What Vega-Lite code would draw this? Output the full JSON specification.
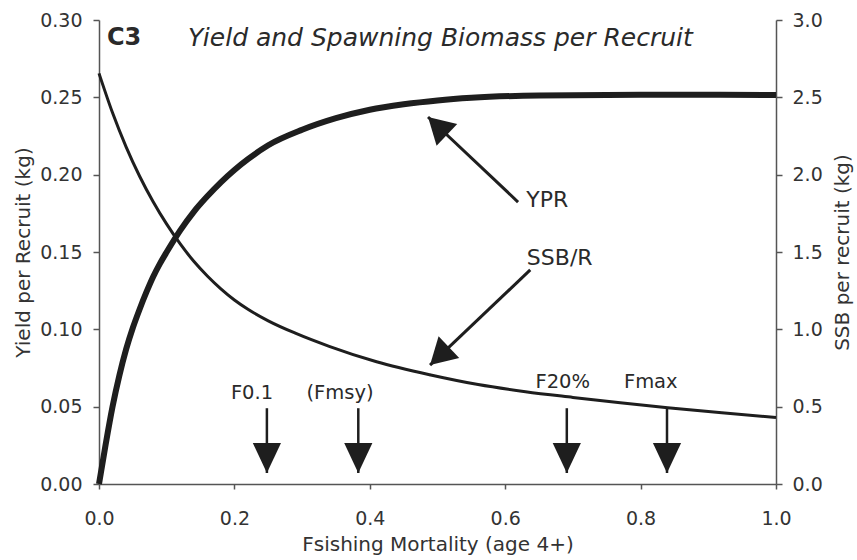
{
  "$schema": "https://vega.github.io/schema/vega-lite/v6.json",
  "width": 677,
  "height": 464,
  "autosize": {"type": "none"},
  "padding": {"left": 99, "top": 20, "right": 81, "bottom": 76},
  "background": "white",
  "config": {
    "view": {"stroke": null},
    "axis": {
      "grid": false,
      "domainColor": "#555",
      "tickColor": "#555",
      "labelColor": "#333",
      "titleColor": "#333",
      "labelFont": "DejaVu Sans",
      "titleFont": "DejaVu Sans",
      "labelFontSize": 19,
      "titleFontSize": 20,
      "titleFontWeight": "normal",
      "labelFlush": false,
      "domainWidth": 1.5,
      "tickWidth": 1.5
    }
  },
  "datasets": {
    "ypr": [
      {"F": 0, "v": 0}, {"F": 0.01, "v": 0.026}, {"F": 0.02, "v": 0.050}, {"F": 0.03, "v": 0.070},
      {"F": 0.04, "v": 0.087}, {"F": 0.05, "v": 0.101}, {"F": 0.06, "v": 0.113}, {"F": 0.07, "v": 0.124},
      {"F": 0.08, "v": 0.134}, {"F": 0.09, "v": 0.1425}, {"F": 0.10, "v": 0.150}, {"F": 0.12, "v": 0.164},
      {"F": 0.14, "v": 0.176}, {"F": 0.16, "v": 0.186}, {"F": 0.18, "v": 0.195}, {"F": 0.20, "v": 0.203},
      {"F": 0.22, "v": 0.210}, {"F": 0.25, "v": 0.219}, {"F": 0.30, "v": 0.229}, {"F": 0.35, "v": 0.2365},
      {"F": 0.40, "v": 0.242}, {"F": 0.45, "v": 0.2455}, {"F": 0.50, "v": 0.248}, {"F": 0.55, "v": 0.2497},
      {"F": 0.65, "v": 0.2512}, {"F": 0.80, "v": 0.2517}, {"F": 1.0, "v": 0.2515}
    ],
    "ssb": [
      {"F": 0, "v": 2.655}, {"F": 0.02, "v": 2.40}, {"F": 0.04, "v": 2.18}, {"F": 0.06, "v": 1.99},
      {"F": 0.08, "v": 1.825}, {"F": 0.10, "v": 1.68}, {"F": 0.12, "v": 1.552}, {"F": 0.14, "v": 1.44},
      {"F": 0.16, "v": 1.345}, {"F": 0.18, "v": 1.262}, {"F": 0.20, "v": 1.19}, {"F": 0.22, "v": 1.13},
      {"F": 0.25, "v": 1.055}, {"F": 0.29, "v": 0.975}, {"F": 0.34, "v": 0.89}, {"F": 0.41, "v": 0.79},
      {"F": 0.49, "v": 0.705}, {"F": 0.56, "v": 0.643}, {"F": 0.63, "v": 0.597}, {"F": 0.70, "v": 0.56},
      {"F": 0.77, "v": 0.525}, {"F": 0.84, "v": 0.493}, {"F": 0.92, "v": 0.46}, {"F": 1.0, "v": 0.43}
    ],
    "downs": [
      {"F": 0.248, "top": 0.049, "tip": 0.0071, "label": "F0.1", "lx": 0.226, "ly": 0.0588},
      {"F": 0.383, "top": 0.049, "tip": 0.0071, "label": "(Fmsy)", "lx": 0.356, "ly": 0.0588},
      {"F": 0.691, "top": 0.049, "tip": 0.0071, "label": "F20%", "lx": 0.685, "ly": 0.066},
      {"F": 0.839, "top": 0.049, "tip": 0.0071, "label": "Fmax", "lx": 0.815, "ly": 0.066}
    ],
    "diag": [
      {"name": "YPR", "x1": 0.619, "y1": 0.1823, "x2": 0.486, "y2": 0.2373, "lx": 0.631, "ly": 0.1836},
      {"name": "SSB/R", "x1": 0.637, "y1": 0.1384, "x2": 0.489, "y2": 0.0769, "lx": 0.632, "ly": 0.1458}
    ],
    "titles": [
      {"t": "C3", "x": 0.0118, "y": 0.2884}
    ],
    "maintitle": [
      {"t": "Yield and Spawning Biomass per Recruit", "x": 0.1315, "y": 0.2884}
    ]
  },
  "layer": [
    {
      "layer": [
        {
          "data": {"name": "ypr"},
          "mark": {"type": "line", "color": "#1e1e1e", "strokeWidth": 6, "interpolate": "monotone", "strokeCap": "butt"},
          "encoding": {
            "x": {"field": "F", "type": "quantitative",
                  "scale": {"domain": [0, 1], "nice": false},
                  "axis": {"title": "Fsishing Mortality (age 4+)", "values": [0, 0.2, 0.4, 0.6, 0.8, 1.0], "format": ".1f", "tickSize": 5, "labelPadding": 20, "titlePadding": 6}},
            "y": {"field": "v", "type": "quantitative",
                  "scale": {"domain": [0, 0.3], "nice": false},
                  "axis": {"title": "Yield per Recruit (kg)", "values": [0, 0.05, 0.1, 0.15, 0.2, 0.25, 0.3], "format": ".2f", "tickSize": 6, "labelPadding": 11, "titlePadding": 6}}
          }
        },
        {
          "data": {"name": "downs"},
          "mark": {"type": "rule", "color": "#1e1e1e", "strokeWidth": 2.5},
          "encoding": {
            "x": {"field": "F", "type": "quantitative"},
            "y": {"field": "top", "type": "quantitative"},
            "y2": {"field": "tip"}
          }
        },
        {
          "data": {"name": "downs"},
          "mark": {"type": "point", "shape": "M0,0L-0.47,1L0.47,1Z", "size": 3600, "angle": 180, "filled": true, "color": "#1e1e1e", "opacity": 1, "strokeWidth": 0},
          "encoding": {
            "x": {"field": "F", "type": "quantitative"},
            "y": {"field": "tip", "type": "quantitative"}
          }
        },
        {
          "data": {"name": "downs"},
          "mark": {"type": "text", "font": "DejaVu Sans", "fontSize": 19.5, "color": "#2a2a2a", "align": "center", "baseline": "middle"},
          "encoding": {
            "x": {"field": "lx", "type": "quantitative"},
            "y": {"field": "ly", "type": "quantitative"},
            "text": {"field": "label"}
          }
        },
        {
          "data": {"name": "diag"},
          "mark": {"type": "rule", "color": "#1e1e1e", "strokeWidth": 3},
          "encoding": {
            "x": {"field": "x1", "type": "quantitative"},
            "y": {"field": "y1", "type": "quantitative"},
            "x2": {"field": "x2"},
            "y2": {"field": "y2"}
          }
        },
        {
          "data": {"name": "diag"},
          "transform": [{"filter": "datum.name === 'YPR'"}],
          "mark": {"type": "point", "shape": "M0,0L-0.577,1L0.577,1Z", "size": 2704, "angle": 313.4, "filled": true, "color": "#1e1e1e", "opacity": 1, "strokeWidth": 0},
          "encoding": {
            "x": {"field": "x2", "type": "quantitative"},
            "y": {"field": "y2", "type": "quantitative"}
          }
        },
        {
          "data": {"name": "diag"},
          "transform": [{"filter": "datum.name === 'SSB/R'"}],
          "mark": {"type": "point", "shape": "M0,0L-0.577,1L0.577,1Z", "size": 2704, "angle": 226.5, "filled": true, "color": "#1e1e1e", "opacity": 1, "strokeWidth": 0},
          "encoding": {
            "x": {"field": "x2", "type": "quantitative"},
            "y": {"field": "y2", "type": "quantitative"}
          }
        },
        {
          "data": {"name": "diag"},
          "mark": {"type": "text", "font": "DejaVu Sans", "fontSize": 22, "color": "#2a2a2a", "align": "left", "baseline": "middle"},
          "encoding": {
            "x": {"field": "lx", "type": "quantitative"},
            "y": {"field": "ly", "type": "quantitative"},
            "text": {"field": "name"}
          }
        },
        {
          "data": {"name": "titles"},
          "mark": {"type": "text", "font": "DejaVu Sans", "fontSize": 24, "fontWeight": "bold", "color": "#2a2a2a", "align": "left", "baseline": "middle"},
          "encoding": {
            "x": {"field": "x", "type": "quantitative"},
            "y": {"field": "y", "type": "quantitative"},
            "text": {"field": "t"}
          }
        },
        {
          "data": {"name": "maintitle"},
          "mark": {"type": "text", "font": "DejaVu Sans", "fontSize": 25, "fontStyle": "italic", "color": "#2a2a2a", "align": "left", "baseline": "middle"},
          "encoding": {
            "x": {"field": "x", "type": "quantitative"},
            "y": {"field": "y", "type": "quantitative"},
            "text": {"field": "t"}
          }
        }
      ]
    },
    {
      "data": {"name": "ssb"},
      "mark": {"type": "line", "color": "#1e1e1e", "strokeWidth": 3, "interpolate": "monotone"},
      "encoding": {
        "x": {"field": "F", "type": "quantitative"},
        "y": {"field": "v", "type": "quantitative",
              "scale": {"domain": [0, 3], "nice": false},
              "axis": {"orient": "right", "title": "SSB per recruit (kg)", "values": [0, 0.5, 1, 1.5, 2, 2.5, 3], "format": ".1f", "tickSize": 6, "labelPadding": 10, "titleAngle": 270, "titleBaseline": "top", "titlePadding": 10}}
      }
    }
  ],
  "resolve": {"scale": {"y": "independent"}}
}
